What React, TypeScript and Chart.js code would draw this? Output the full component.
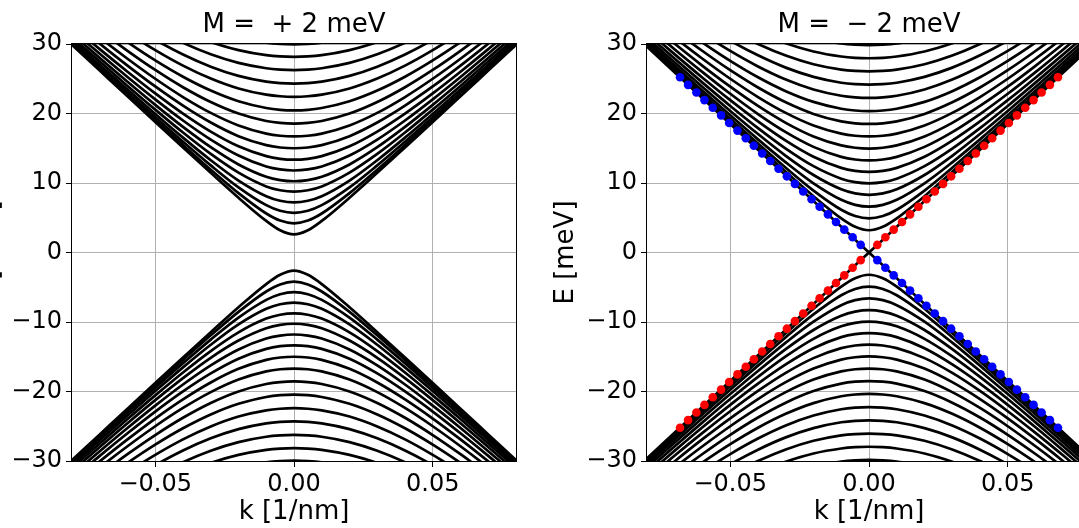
import React, { useEffect, useRef } from 'react';
import { Chart, registerables } from 'chart.js';

Chart.register(...registerables);

// k grid (1/nm) for k >= 0; curves are symmetric in k
const kHalf = [0, 0.005, 0.01, 0.02, 0.03, 0.04, 0.05, 0.06, 0.07, 0.08];

// Conduction subbands (meV) at kHalf, M = +2 meV (valence bands are the mirror image)
const bandsPlus: number[][] = [
  [2.6, 3.2, 4.54, 7.88, 11.46, 15.11, 18.78, 22.47, 26.17, 29.87],
  [4.2, 4.59, 5.61, 8.54, 11.92, 15.46, 19.07, 22.71, 26.38, 30.05],
  [5.7, 6.0, 6.81, 9.37, 12.53, 15.93, 19.45, 23.04, 26.66, 30.3],
  [7.2, 7.44, 8.1, 10.35, 13.28, 16.53, 19.94, 23.45, 27.02, 30.62],
  [8.75, 8.95, 9.51, 11.49, 14.18, 17.26, 20.56, 23.97, 27.47, 31.02],
  [10.25, 10.42, 10.9, 12.67, 15.15, 18.07, 21.24, 24.56, 27.98, 31.48],
  [11.8, 11.95, 12.37, 13.95, 16.24, 18.99, 22.03, 25.25, 28.59, 32.01],
  [13.35, 13.48, 13.86, 15.28, 17.4, 19.99, 22.89, 26.01, 29.26, 32.62],
  [15.0, 15.11, 15.45, 16.74, 18.7, 21.13, 23.89, 26.89, 30.05, 33.33],
  [16.7, 16.8, 17.11, 18.28, 20.09, 22.37, 25.0, 27.88, 30.93, 34.13],
  [18.55, 18.64, 18.92, 19.99, 21.65, 23.78, 26.27, 29.02, 31.97, 35.07],
  [20.45, 20.53, 20.79, 21.76, 23.3, 25.29, 27.64, 30.27, 33.11, 36.2],
  [22.4, 22.48, 22.71, 23.6, 25.03, 26.89, 29.12, 31.62, 34.35, 37.3],
  [24.3, 24.37, 24.58, 25.41, 26.74, 28.49, 30.6, 33.0, 35.6, 38.4],
  [26.25, 26.32, 26.51, 27.28, 28.52, 30.17, 32.17, 34.4, 36.9, 39.6],
  [28.15, 28.21, 28.39, 29.12, 30.28, 31.84, 33.7, 35.8, 38.2, 40.8],
  [29.95, 30.01, 30.18, 30.86, 32.0, 33.5, 35.3, 37.2, 39.5, 42.0],
];

// Conduction subbands (meV) at kHalf, M = -2 meV
const bandsMinus: number[][] = [
  [3.2, 3.7, 4.91, 8.1, 11.61, 15.22, 18.87, 22.55, 26.24, 29.93],
  [4.9, 5.24, 6.15, 8.91, 12.19, 15.67, 19.23, 22.85, 26.5, 30.16],
  [6.6, 6.86, 7.58, 9.95, 12.97, 16.28, 19.74, 23.28, 26.86, 30.48],
  [8.3, 8.51, 9.1, 11.15, 13.91, 17.04, 20.37, 23.81, 27.33, 30.9],
  [9.95, 10.12, 10.62, 12.42, 14.95, 17.9, 21.09, 24.44, 27.88, 31.38],
  [11.6, 11.75, 12.18, 13.78, 16.1, 18.87, 21.92, 25.15, 28.51, 31.94],
  [13.25, 13.38, 13.76, 15.2, 17.32, 19.92, 22.84, 25.96, 29.22, 32.58],
  [14.95, 15.07, 15.41, 16.7, 18.66, 21.09, 23.86, 26.86, 30.03, 33.3],
  [16.7, 16.8, 17.11, 18.28, 20.09, 22.37, 25.0, 27.88, 30.93, 34.13],
  [18.5, 18.59, 18.87, 19.94, 21.61, 23.74, 26.23, 28.99, 31.94, 35.05],
  [20.35, 20.43, 20.69, 21.67, 23.21, 25.21, 27.57, 30.2, 33.05, 36.1],
  [22.25, 22.33, 22.56, 23.46, 24.89, 26.77, 29.0, 31.52, 34.25, 37.2],
  [24.15, 24.22, 24.43, 25.27, 26.6, 28.37, 30.48, 32.9, 35.5, 38.3],
  [26.05, 26.12, 26.31, 27.09, 28.34, 30.0, 32.01, 34.2, 36.8, 39.5],
  [27.95, 28.01, 28.2, 28.92, 30.1, 31.66, 33.6, 35.7, 38.1, 40.7],
  [29.85, 29.91, 30.08, 30.77, 31.9, 33.4, 35.2, 37.2, 39.4, 41.9],
];

// Edge-state branch (meV) at kHalf, M = -2 meV
const edgeBranch = [0, 1.85, 3.7, 7.4, 11.1, 14.8, 18.5, 22.2, 25.9, 29.6];

// Marked edge states: |k| (1/nm) and |E| (meV)
const kDots = [
  0.003, 0.0059, 0.0089, 0.0119, 0.0148, 0.0178, 0.0207, 0.0237, 0.0267, 0.0296, 0.0326, 0.0356,
  0.0385, 0.0415, 0.0444, 0.0474, 0.0504, 0.0533, 0.0563, 0.0593, 0.0622, 0.0652, 0.0681,
];
const eDots = [
  1.1, 2.19, 3.29, 4.39, 5.48, 6.58, 7.67, 8.77, 9.87, 10.96, 12.06, 13.16, 14.25, 15.35, 16.44,
  17.54, 18.64, 19.73, 20.83, 21.93, 23.02, 24.12, 25.21,
];

const xTicks = [-0.05, 0, 0.05];
const yTicks = [-30, -20, -10, 0, 10, 20, 30];

const titlePlus = 'M =  + 2 meV';
const titleMinus = 'M =  \u2212 2 meV';

const FONT = 'DejaVu Sans';
const TICK_FONT = { family: FONT, size: 24 };
const LABEL_FONT = { family: FONT, size: 26 };

const fmt = (v: number, d: number) => (v < -1e-12 ? '\u2212' : '') + Math.abs(v).toFixed(d);

function curve(vals: number[], sign: number) {
  const pts: { x: number; y: number }[] = [];
  for (let i = kHalf.length - 1; i > 0; i--) pts.push({ x: -kHalf[i], y: sign * vals[i] });
  for (let i = 0; i < kHalf.length; i++) pts.push({ x: kHalf[i], y: sign * vals[i] });
  return pts;
}

function lineDs(data: { x: number; y: number }[]) {
  return {
    data,
    borderColor: '#000',
    borderWidth: 2.7,
    pointRadius: 0,
    fill: false,
    cubicInterpolationMode: 'monotone',
    clip: 0,
    order: 2,
  };
}

const boxPlugin = {
  id: 'box',
  afterDatasetsDraw(chart: any) {
    const { ctx, chartArea } = chart;
    ctx.save();
    ctx.strokeStyle = '#000';
    ctx.lineWidth = 1;
    ctx.strokeRect(
      Math.round(chartArea.left) - 0.5,
      Math.round(chartArea.top) - 0.5,
      Math.round(chartArea.right - chartArea.left) + 1,
      Math.round(chartArea.bottom - chartArea.top) + 1,
    );
    ctx.restore();
  },
};

function makeConfig(title: string, bands: number[][], withEdge: boolean): any {
  const datasets: any[] = [];
  bands.forEach((b) => {
    datasets.push(lineDs(curve(b, 1)));
    datasets.push(lineDs(curve(b, -1)));
  });
  if (withEdge) {
    const up: { x: number; y: number }[] = [];
    const down: { x: number; y: number }[] = [];
    for (let i = kHalf.length - 1; i > 0; i--) {
      up.push({ x: -kHalf[i], y: -edgeBranch[i] });
      down.push({ x: -kHalf[i], y: edgeBranch[i] });
    }
    for (let i = 0; i < kHalf.length; i++) {
      up.push({ x: kHalf[i], y: edgeBranch[i] });
      down.push({ x: kHalf[i], y: -edgeBranch[i] });
    }
    datasets.push({ ...lineDs(up), cubicInterpolationMode: 'default', tension: 0 });
    datasets.push({ ...lineDs(down), cubicInterpolationMode: 'default', tension: 0 });
    const red: { x: number; y: number }[] = [];
    const blue: { x: number; y: number }[] = [];
    for (let i = kDots.length - 1; i >= 0; i--) {
      red.push({ x: -kDots[i], y: -eDots[i] });
      blue.push({ x: -kDots[i], y: eDots[i] });
    }
    for (let i = 0; i < kDots.length; i++) {
      red.push({ x: kDots[i], y: eDots[i] });
      blue.push({ x: kDots[i], y: -eDots[i] });
    }
    const dot = (data: any, color: string) => ({
      data,
      showLine: false,
      pointRadius: 4.3,
      pointBorderWidth: 0,
      pointBackgroundColor: color,
      pointBorderColor: color,
      borderColor: color,
      order: 0,
    });
    datasets.push(dot(red, '#ff0000'));
    datasets.push(dot(blue, '#0000ff'));
  }
  return {
    type: 'line',
    data: { datasets },
    options: {
      animation: false,
      responsive: false,
      events: [],
      layout: { padding: { left: 0, right: 26, top: 0, bottom: 0 } },
      plugins: {
        legend: { display: false },
        tooltip: { enabled: false },
        title: {
          display: true,
          text: title,
          fullSize: false,
          color: '#000',
          font: { ...LABEL_FONT, weight: 'normal' },
          padding: { top: 10, bottom: 2.8 },
        },
      },
      scales: {
        x: {
          type: 'linear',
          min: -0.08,
          max: 0.08,
          afterBuildTicks: (s: any) => {
            s.ticks = xTicks.map((v) => ({ value: v }));
          },
          afterFit: (s: any) => {
            s.height = 67;
          },
          ticks: {
            callback: (v: any) => fmt(Number(v), 2),
            font: TICK_FONT,
            color: '#000',
            padding: 3,
            maxRotation: 0,
            autoSkip: false,
          },
          grid: { color: '#b0b0b0', lineWidth: 1, tickLength: 6, tickColor: '#000', tickWidth: 1 },
          border: { display: false },
          title: {
            display: true,
            text: 'k [1/nm]',
            color: '#000',
            font: LABEL_FONT,
            padding: { top: 0, bottom: 0 },
          },
        },
        y: {
          type: 'linear',
          min: -30,
          max: 30,
          afterBuildTicks: (s: any) => {
            s.ticks = yTicks.map((v) => ({ value: v }));
          },
          afterFit: (s: any) => {
            s.width = 130;
          },
          ticks: {
            callback: (v: any) => fmt(Number(v), 0),
            font: TICK_FONT,
            color: '#000',
            padding: 4,
            autoSkip: false,
          },
          grid: { color: '#b0b0b0', lineWidth: 1, tickLength: 6, tickColor: '#000', tickWidth: 1 },
          border: { display: false },
          title: {
            display: true,
            text: 'E [meV]',
            color: '#000',
            font: LABEL_FONT,
            padding: { top: 34, bottom: 0 },
          },
        },
      },
    },
    plugins: [boxPlugin],
  };
}

function Panel({ left, title, bands, withEdge }: { left: number; title: string; bands: number[][]; withEdge: boolean }) {
  const ref = useRef<HTMLCanvasElement | null>(null);
  useEffect(() => {
    if (!ref.current) return;
    const chart = new Chart(ref.current, makeConfig(title, bands, withEdge));
    return () => chart.destroy();
  }, [title, bands, withEdge]);
  return (
    <canvas
      ref={ref}
      width={600}
      height={528}
      style={{ position: 'absolute', left, top: 0, width: 600, height: 528 }}
    />
  );
}

export default function App() {
  return (
    <div
      style={{
        position: 'fixed',
        left: 0,
        top: 0,
        width: 1079,
        height: 528,
        overflow: 'hidden',
        background: '#fff',
      }}
    >
      <Panel left={-58} title={titlePlus} bands={bandsPlus} withEdge={false} />
      <Panel left={517} title={titleMinus} bands={bandsMinus} withEdge={true} />
    </div>
  );
}
